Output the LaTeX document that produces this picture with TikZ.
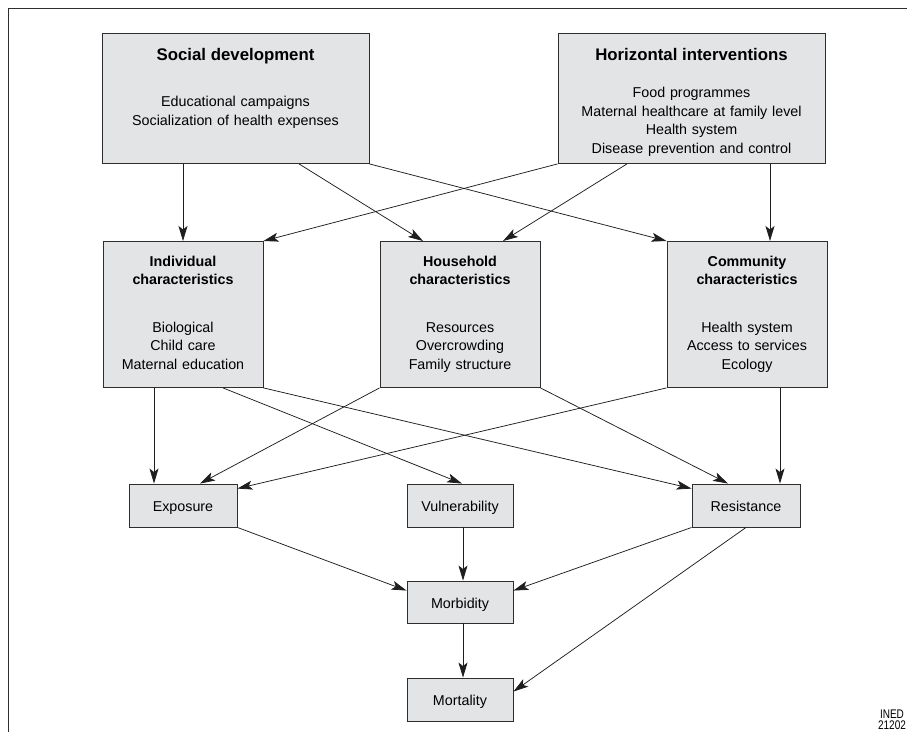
\documentclass[tikz,border=0pt]{standalone}
\usepackage{fontspec}
\setmainfont{Liberation Sans}
\newfontfamily\hbnarrow{Liberation Sans}[FakeStretch=0.8]
\usetikzlibrary{arrows.meta,positioning}
\definecolor{hbgrey}{HTML}{E3E4E6}
\definecolor{hbline}{HTML}{2E2E2E}
\definecolor{hbdark}{HTML}{1E1E1E}
\tikzset{
  topbox/.style={draw=hbline,fill=hbgrey,line width=0.9pt,inner sep=0pt,
                 text width=267pt,align=center,text height=27pt,text depth=103pt,
                 anchor=north,font=\fontsize{14.3}{18.7}\selectfont},
  midbox/.style={draw=hbline,fill=hbgrey,line width=0.9pt,inner sep=0pt,
                 text width=160pt,align=center,text height=24.7pt,text depth=121.3pt,
                 anchor=north,font=\fontsize{14.3}{18.8}\selectfont},
  lowbox/.style={draw=hbline,fill=hbgrey,line width=0.9pt,inner sep=0pt,
                 minimum width=108pt,minimum height=43pt,
                 text height=12.4pt,text depth=0pt,font=\fontsize{14.3}{18.8}\selectfont},
  ar/.style={-{Stealth[length=15pt,width=9pt,inset=3.5pt]},line width=0.75pt,hbdark},
}
\newcommand{\tophead}[1]{{\fontsize{16.8}{18.7}\selectfont\bfseries #1}}

\begin{document}
\begin{tikzpicture}[x=1pt,y=-1pt]
  \useasboundingbox (0,0) rectangle (907,732);
  % frame
  \draw[hbline,line width=1.2pt] (907,8.5) -- (8.5,8.5) -- (8.5,732);

  % top row
  \node[topbox] (soc) at (235.5,33) {\tophead{Social development}\\[27.3pt]
    Educational campaigns\\Socialization of health expenses};
  \node[topbox] (hor) at (691.5,33) {\tophead{Horizontal interventions}\\[18.3pt]
    Food programmes\\Maternal healthcare at family level\\Health system\\
    Disease prevention and control};

  % characteristics
  \node[midbox] (ind) at (183,241) {\textbf{Individual}\\\textbf{characteristics}\\[28.4pt]
    Biological\\Child care\\Maternal education};
  \node[midbox] (hh) at (460,241) {\textbf{Household}\\\textbf{characteristics}\\[28.4pt]
    Resources\\Overcrowding\\Family structure};
  \node[midbox] (com) at (747,241) {\textbf{Community}\\\textbf{characteristics}\\[28.4pt]
    Health system\\Access to services\\Ecology};

  % mechanisms
  \node[lowbox] (exp) at (183,505.5) {Exposure};
  \node[lowbox,minimum width=106pt] (vul) at (460,505.5) {Vulnerability};
  \node[lowbox] (res) at (746,505.5) {Resistance};
  \node[lowbox,minimum width=106pt,minimum height=42pt] (mor) at (460,602) {Morbidity};
  \node[lowbox,minimum width=106pt] (mort) at (460,699.5) {Mortality};

  \node[font=\hbnarrow\fontsize{12.5}{10.6}\selectfont,align=center,inner sep=0pt,anchor=base]
    (ined) at (892,729.5) {INED\\21202};

  % top row to characteristics
  \draw[ar] (soc.south -| ind) -- (ind.north);
  \draw[ar] ([xshift=63.5]soc.south) -- ([xshift=-37]hh.north);
  \draw[ar] (soc.south east) -- (com.north west);
  \draw[ar] (hor.south west) -- (ind.north east);
  \draw[ar] ([xshift=-64.5]hor.south) -- ([xshift=43]hh.north);
  \draw[ar] ([xshift=23]com.north |- hor.south) -- ([xshift=23]com.north);

  % characteristics to mechanisms
  \draw[ar] ([xshift=-29]ind.south) -- ([xshift=-29]ind.south |- exp.north);
  \draw[ar] ([xshift=40]ind.south) -- ([xshift=2]vul.north);
  \draw[ar] (ind.south east) -- ([yshift=-5]res.north west);
  \draw[ar] (hh.south west) -- ([xshift=17]exp.north);
  \draw[ar] (hh.south east) -- ([xshift=-18]res.north);
  \draw[ar] (com.south west) -- ([yshift=-5]exp.north east);
  \draw[ar] ([xshift=33]com.south) -- ([xshift=33]com.south |- res.north);

  % mechanisms to outcomes
  \draw[ar] (exp.south east) -- ([yshift=-10]mor.north west);
  \draw[ar] ([xshift=3]vul.south) -- ([xshift=3]mor.north);
  \draw[ar] (res.south west) -- ([yshift=-10]mor.north east);
  \draw[ar] (res.south) -- ([yshift=-14]mort.north east);
  \draw[ar] ([xshift=3]mor.south) -- ([xshift=3]mort.north);
\end{tikzpicture}
\end{document}
